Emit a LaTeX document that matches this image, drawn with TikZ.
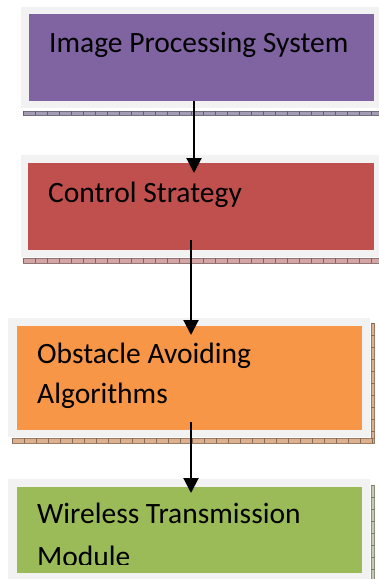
\documentclass[tikz,border=0pt]{standalone}
\usepackage{fontspec}
\setmainfont{Carlito}
\usetikzlibrary{arrows.meta}
\definecolor{frameg}{HTML}{F2F2F2}
\definecolor{cpurple}{HTML}{8064A2}
\definecolor{cred}{HTML}{C0504D}
\definecolor{corange}{HTML}{F79646}
\definecolor{cgreen}{HTML}{9BBB59}
\definecolor{hpurple}{HTML}{A49CB4}
\definecolor{hred}{HTML}{D2A6A4}
\definecolor{horange}{HTML}{DDB08E}
\definecolor{hgreen}{HTML}{C4CCB4}
\tikzset{
  boxfill/.style={draw=none, rectangle, inner sep=0pt, anchor=north west},
  label text/.style={anchor=base west, inner sep=0pt, font=\fontsize{29.5}{40}\selectfont},
  arr/.style={line width=2pt, -{Triangle[length=15pt,width=15pt]}},
}
\newcommand{\hatchstrip}[5]{% x1 y1 x2 y2 color
  \fill[#5] (#1,#2) rectangle (#3,#4);
  \draw[#5!70!black, line width=0.3pt] (#1,#2) rectangle (#3,#4);
}
\begin{document}
\begin{tikzpicture}[x=1pt,y=-1pt]
\useasboundingbox (0,0) rectangle (379,579);
\fill[white] (0,0) rectangle (379,579);
% box 1
\fill[frameg] (21,7) rectangle (379,108);
\node[boxfill, fill=cpurple, minimum width=345pt, minimum height=87pt] (b1) at (29,14) {};
\hatchstrip{23}{111}{379}{115}{hpurple}
\foreach \x in {23,35,...,379} \draw[hpurple!60!black, line width=0.3pt] (\x,111) -- (\x,115);
\node[label text] (t1) at (49,52) {Image Processing System};
% box 2
\fill[frameg] (21,155) rectangle (379,257);
\node[boxfill, fill=cred, minimum width=346pt, minimum height=87pt] (b2) at (28,163) {};
\hatchstrip{23}{258}{379}{263}{hred}
\foreach \x in {23,35,...,379} \draw[hred!60!black, line width=0.3pt] (\x,258) -- (\x,263);
\node[label text] (t2) at (48,202) {Control Strategy};
% box 3
\fill[frameg] (8,318) rectangle (370,437);
\node[boxfill, fill=corange, minimum width=345pt, minimum height=104pt] (b3) at (17,326) {};
\hatchstrip{371}{323}{374}{440}{horange}
\hatchstrip{12}{438}{374}{443}{horange}
\foreach \x in {12,24,...,374} \draw[horange!60!black, line width=0.3pt] (\x,438) -- (\x,443);
\foreach \y in {323,335,...,440} \draw[horange!60!black, line width=0.3pt] (371,\y) -- (374,\y);
\node[label text] (t3a) at (37,363) {Obstacle Avoiding};
\node[label text] (t3b) at (37,403) {Algorithms};
% box 4
\fill[frameg] (8,479) rectangle (370,579);
\node[boxfill, fill=cgreen, minimum width=345pt, minimum height=86pt] (b4) at (17,487) {};
\hatchstrip{371}{485}{374}{579}{hgreen}
\foreach \y in {485,497,...,579} \draw[hgreen!60!black, line width=0.3pt] (371,\y) -- (374,\y);
\begin{scope}
\clip (17,487) rectangle (362,564.5);
\node[label text] (t4a) at (37,523) {Wireless Transmission};
\node[label text] (t4b) at (37,566) {Module};
\end{scope}
% connectors
\coordinate (s1) at (194,101);
\coordinate (e1) at (194,173);
\coordinate (s2) at (191,240);
\coordinate (e2) at (191,335);
\coordinate (s3) at (191,422);
\coordinate (e3) at (191,493);
\draw[arr] (s1) -- (e1);
\draw[arr] (s2) -- (e2);
\draw[arr] (s3) -- (e3);
\end{tikzpicture}
\end{document}
